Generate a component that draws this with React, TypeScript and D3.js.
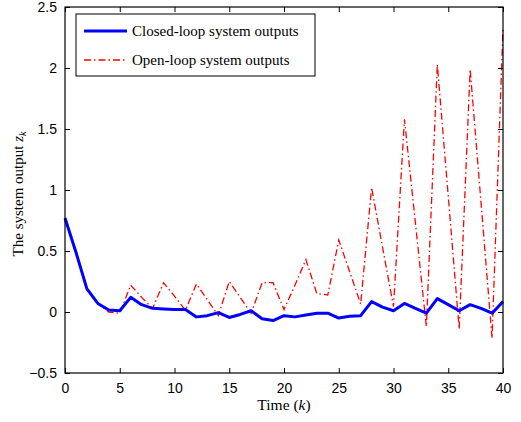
import { useRef, useEffect } from 'react'
import * as d3 from 'd3'

// time steps k = 0..40
const steps: number[] = d3.range(0, 41)

const closedLoop: number[] = [
  0.77, 0.49, 0.19, 0.07, 0.016, 0.01, 0.12, 0.06, 0.03, 0.025,
  0.02, 0.02, -0.04, -0.03, -0.005, -0.045, -0.02, 0.01, -0.055, -0.07,
  -0.03, -0.04, -0.025, -0.01, -0.01, -0.05, -0.035, -0.03, 0.085, 0.04,
  0.01, 0.07, 0.03, -0.01, 0.11, 0.06, 0.01, 0.06, 0.03, -0.01,
  0.085,
]

const openLoop: number[] = [
  0.75, 0.5, 0.2, 0.07, 0.0, -0.01, 0.22, 0.12, 0.03, 0.24,
  0.13, 0.015, 0.23, 0.1, -0.03, 0.25, 0.12, -0.01, 0.24, 0.24,
  0.02, 0.22, 0.43, 0.15, 0.14, 0.59, 0.33, 0.065, 1.02, 0.53,
  0.045, 1.58, 0.73, -0.12, 2.03, 0.95, -0.14, 1.99, 0.89, -0.215,
  2.33,
]

const xTicks: number[] = [0, 5, 10, 15, 20, 25, 30, 35, 40]
const yTicks: number[] = [-0.5, 0, 0.5, 1, 1.5, 2, 2.5]

const legendLabels: string[] = ['Closed-loop system outputs', 'Open-loop system outputs']

export default function App() {
  const svgRef = useRef<SVGSVGElement | null>(null)

  useEffect(() => {
    document.body.style.margin = '0'
    if (!svgRef.current) return
    const svg = d3.select(svgRef.current)
    svg.selectAll('*').remove()

    const width = 521
    const height = 422
    const margin = { top: 7, right: 18, bottom: 49, left: 65 }
    const innerW = width - margin.left - margin.right
    const innerH = height - margin.top - margin.bottom

    const g = svg.append('g').attr('transform', `translate(${margin.left},${margin.top})`)

    const x = d3.scaleLinear().domain([0, 40]).range([0, innerW])
    const y = d3.scaleLinear().domain([-0.5, 2.5]).range([innerH, 0])

    const tickFont = 'Liberation Sans, Arial, sans-serif'
    const serif = 'Liberation Serif, Times New Roman, serif'
    const fmt = (d: number) => (d < 0 ? '\u2212' + Math.abs(d) : String(d))

    // lines
    const line = d3.line<number>()
      .x((_, i) => x(steps[i]))
      .y(d => y(d))

    g.append('path')
      .datum(openLoop)
      .attr('d', line)
      .attr('fill', 'none')
      .attr('stroke', '#ff0000')
      .attr('stroke-width', 1.3)
      .attr('stroke-dasharray', '7,3,1.5,3')

    g.append('path')
      .datum(closedLoop)
      .attr('d', line)
      .attr('fill', 'none')
      .attr('stroke', '#0000ff')
      .attr('stroke-width', 3)
      .attr('stroke-linejoin', 'round')

    // axes with inward ticks on all sides
    const styleAxis = (sel: d3.Selection<SVGGElement, unknown, null, undefined>) => {
      sel.select('.domain').remove()
      sel.selectAll('line').attr('stroke', '#000').attr('stroke-width', 1)
    }

    g.append('g')
      .attr('transform', `translate(0,${innerH})`)
      .call(d3.axisBottom(x).tickValues(xTicks).tickSize(-5).tickPadding(10).tickFormat(d => fmt(+d)))
      .call(styleAxis)
      .selectAll('text')
      .style('font-family', tickFont)
      .style('font-size', '14px')
      .attr('fill', '#000')

    g.append('g')
      .call(d3.axisTop(x).tickValues(xTicks).tickSize(-5).tickFormat(() => ''))
      .call(styleAxis)

    g.append('g')
      .call(d3.axisLeft(y).tickValues(yTicks).tickSize(-5).tickPadding(8).tickFormat(d => fmt(+d)))
      .call(styleAxis)
      .selectAll('text')
      .style('font-family', tickFont)
      .style('font-size', '14px')
      .attr('fill', '#000')

    g.append('g')
      .attr('transform', `translate(${innerW},0)`)
      .call(d3.axisRight(y).tickValues(yTicks).tickSize(-5).tickFormat(() => ''))
      .call(styleAxis)

    // frame
    g.append('rect')
      .attr('width', innerW)
      .attr('height', innerH)
      .attr('fill', 'none')
      .attr('stroke', '#000')
      .attr('stroke-width', 1.2)

    // axis labels
    const xl = svg.append('text')
      .attr('x', margin.left + innerW / 2)
      .attr('y', 410)
      .attr('text-anchor', 'middle')
      .style('font-family', serif)
      .style('font-size', '15.5px')
    xl.append('tspan').text('Time (')
    xl.append('tspan').style('font-style', 'italic').text('k')
    xl.append('tspan').text(')')

    const yl = svg.append('text')
      .attr('transform', `translate(23,${margin.top + innerH / 2 + 4}) rotate(-90)`)
      .attr('text-anchor', 'middle')
      .style('font-family', serif)
      .style('font-size', '15px')
    yl.append('tspan').text('The system output ')
    yl.append('tspan').style('font-style', 'italic').text('z')
    yl.append('tspan').attr('dy', 3).style('font-style', 'italic').style('font-size', '10px').text('k')

    // legend
    const lg = g.append('g').attr('transform', 'translate(11,7)')
    lg.append('rect')
      .attr('width', 239)
      .attr('height', 62)
      .attr('fill', '#fff')
      .attr('stroke', '#000')
      .attr('stroke-width', 1)
    const legendStyles = [
      { color: '#0000ff', width: 3, dash: null as string | null },
      { color: '#ff0000', width: 1.3, dash: '7,3,1.5,3' },
    ]
    legendLabels.forEach((label, i) => {
      const yy = 17 + i * 29
      const ln = lg.append('line')
        .attr('x1', 8).attr('x2', 51)
        .attr('y1', yy).attr('y2', yy)
        .attr('stroke', legendStyles[i].color)
        .attr('stroke-width', legendStyles[i].width)
      if (legendStyles[i].dash) ln.attr('stroke-dasharray', legendStyles[i].dash)
      lg.append('text')
        .attr('x', 56)
        .attr('y', yy + 5)
        .style('font-family', serif)
        .style('font-size', '15px')
        .text(label)
    })
  }, [])

  return <svg ref={svgRef} width={521} height={422} style={{ display: 'block' }} />
}
